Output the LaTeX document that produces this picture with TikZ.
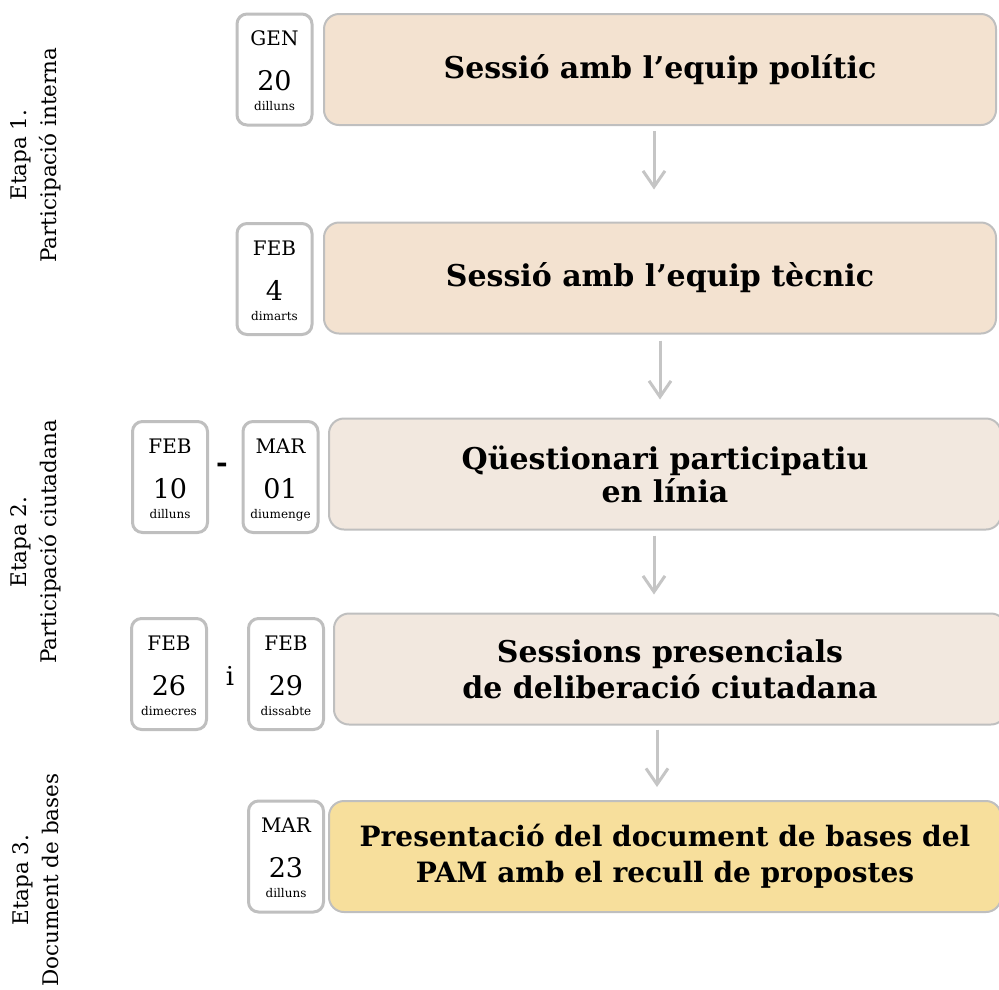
\documentclass[tikz,border=0pt]{standalone}
\usepackage{fontspec}
\setmainfont{DejaVu Serif}
\usetikzlibrary{arrows.meta}
\definecolor{peach}{HTML}{F3E2D0}
\definecolor{cream}{HTML}{F2E8DF}
\definecolor{sand}{HTML}{F7DF9C}
\definecolor{edge}{HTML}{BFBFBF}
\begin{document}
\begin{tikzpicture}[x=1pt,y=-1pt,
    stepbox/.style={draw=edge, line width=2pt, rounded corners=15pt, minimum width=672pt, minimum height=111pt, align=center, font=\fontsize{30}{36}\selectfont\bfseries},
    datebox/.style={draw=edge, line width=3pt, rounded corners=10pt, fill=white, minimum width=75pt, minimum height=111pt},
    flow/.style={draw=edge!90, line width=3pt, -{Straight Barb[length=16pt,width=22pt]}},
    stage/.style={rotate=90, align=center, font=\fontsize{21.5}{30}\selectfont}]
    \useasboundingbox (0,0) rectangle (999,989);
    % stages
    \node[stage] (e1) at (36,155) {Etapa 1.\\Participació interna};
    \node[stage] (e2) at (36,542) {Etapa 2.\\Participació ciutadana};
    \node[stage] (e3) at (36,880) {Etapa 3.\\Document de bases};
    % steps
    \node[stepbox, fill=peach] (s1) at (660,69.5) {Sessió amb l’equip polític};
    \node[stepbox, fill=peach] (s2) at (660,278) {Sessió amb l’equip tècnic};
    \node[stepbox, fill=cream, font=\fontsize{30}{33}\selectfont\bfseries] (s3) at (665,474) {Qüestionari participatiu\\en línia};
    \node[stepbox, fill=cream] (s4) at (670,669) {Sessions presencials\\de deliberació ciutadana};
    \node[stepbox, fill=sand, font=\fontsize{28}{36}\selectfont\bfseries] (s5) at (665,856.5) {Presentació del document de bases del\\PAM amb el recull de propostes};
    % dates
    \foreach \n/\x/\y/\m/\d/\w in {d1/274.5/69.5/GEN/20/dilluns, d2/274.5/279/FEB/4/dimarts, d3/170/477/FEB/10/dilluns, d4/280.5/477/MAR/01/diumenge, d5/169/674/FEB/26/dimecres, d6/286/674/FEB/29/dissabte, d7/286/856.5/MAR/23/dilluns}{
        \node[datebox] (\n) at (\x,\y) {};
        \node[anchor=base, font=\fontsize{20}{24}\selectfont] (\n m) at ([yshift=-33pt]\n.north) {\m};
        \node[anchor=base, font=\fontsize{27}{30}\selectfont] (\n d) at ([yshift=-78pt]\n.north) {\d};
        \node[anchor=base, font=\fontsize{12}{14}\selectfont] (\n w) at ([yshift=-98pt]\n.north) {\w};
    }
    \node[font=\fontsize{28}{30}\selectfont\bfseries] (to) at (222,468) {-};
    \node[font=\fontsize{26}{30}\selectfont] (and) at (230,676) {i};
    % arrows
    \draw[flow, shorten <=5pt, shorten >=32pt] ([xshift=-6pt]s1.south) -- ([xshift=-6pt]s1.south |- s2.north);
    \draw[flow, shorten <=6pt, shorten >=18pt] (s2.south) -- (s2.south |- s3.north);
    \draw[flow, shorten <=5pt, shorten >=18pt] ([xshift=-11pt]s3.south) -- ([xshift=-11pt]s3.south |- s4.north);
    \draw[flow, shorten <=4pt, shorten >=13pt] ([xshift=-13pt]s4.south) -- ([xshift=-13pt]s4.south |- s5.north);
\end{tikzpicture}
\end{document}
